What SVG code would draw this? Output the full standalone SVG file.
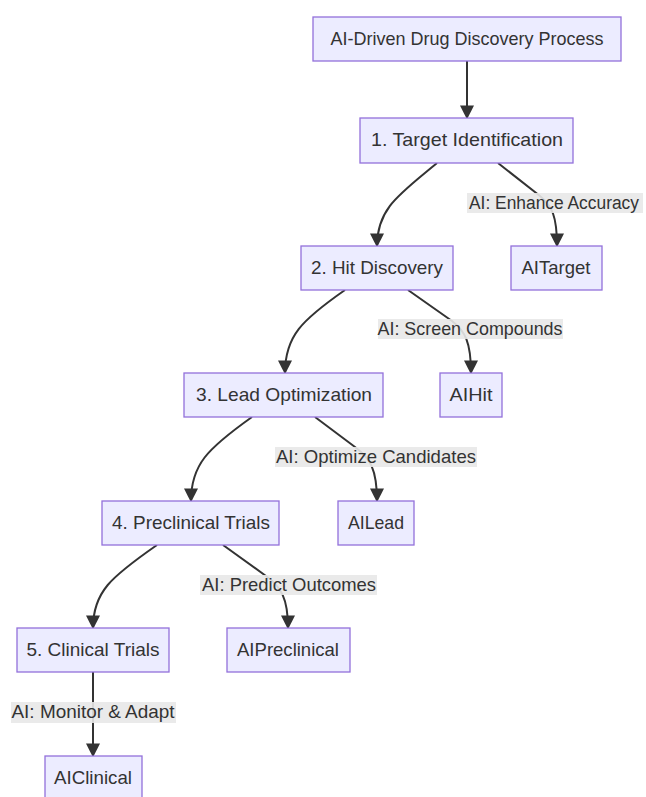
<svg xmlns="http://www.w3.org/2000/svg" width="646" height="797" viewBox="0 0 646 797">
  <style>
    .node rect { fill: #ececff; stroke: #9370db; stroke-width: 1.3; }
    .node text, .lbl text { font-family: "Liberation Sans", Arial, sans-serif; font-size: 19px; fill: #333333; text-anchor: middle; }
    .lbl rect { fill: #e8e8e8; opacity: 0.9; }
    .edge { fill: none; stroke: #333333; stroke-width: 2; marker-end: url(#arrow); }
  </style>
  <defs>
    <marker id="arrow" viewBox="0 0 10 10" refX="9" refY="5" markerUnits="userSpaceOnUse" markerWidth="14" markerHeight="14" orient="auto">
      <path d="M0,0 L10,5 L0,10 z" fill="#333333"/>
    </marker>
  </defs>
  <rect x="0" y="0" width="646" height="797" fill="#ffffff"/>

  <g id="edges">
    <path class="edge" d="M467,61 L467,118"/>
    <path class="edge" d="M437,163 C400,194 377,208 377,246"/>
    <path class="edge" d="M498,163 L540,196 C552,206 557,216 557,246"/>
    <path class="edge" d="M345,290 C302,320 285,336 285,373"/>
    <path class="edge" d="M408,290 L452,321 C465,331 471,342 471,373"/>
    <path class="edge" d="M252,417 C207,449 191,465 191,501"/>
    <path class="edge" d="M315,417 L355,447 C370,458 377,469 377,501"/>
    <path class="edge" d="M157,545 C111,577 93,592 93,628"/>
    <path class="edge" d="M223,545 L266,576 C281,587 288,598 288,628"/>
    <path class="edge" d="M93,672 L93,756"/>
  </g>

  <g id="edge-labels">
    <g class="lbl" id="lbl-enhance"><rect x="467" y="193" width="176" height="20"/><text x="554" y="209" style="font-size:18px" textLength="170" lengthAdjust="spacingAndGlyphs">AI: Enhance Accuracy</text></g>
    <g class="lbl" id="lbl-screen"><rect x="378" y="319" width="185" height="20"/><text x="470" y="335" textLength="185" lengthAdjust="spacingAndGlyphs">AI: Screen Compounds</text></g>
    <g class="lbl" id="lbl-optimize"><rect x="275" y="447" width="202" height="20"/><text x="376" y="463" textLength="200" lengthAdjust="spacingAndGlyphs">AI: Optimize Candidates</text></g>
    <g class="lbl" id="lbl-predict"><rect x="200" y="575" width="177" height="20"/><text x="289" y="591" textLength="174" lengthAdjust="spacingAndGlyphs">AI: Predict Outcomes</text></g>
    <g class="lbl" id="lbl-monitor"><rect x="11" y="702" width="165" height="21"/><text x="93" y="718" textLength="163" lengthAdjust="spacingAndGlyphs">AI: Monitor &amp; Adapt</text></g>
  </g>

  <g class="node" id="node-start"><rect x="313" y="17" width="308" height="44"/><text x="467" y="45" textLength="273" lengthAdjust="spacingAndGlyphs">AI-Driven Drug Discovery Process</text></g>
  <g class="node" id="node-target"><rect x="360" y="118" width="213" height="45"/><text x="467" y="146" textLength="192" lengthAdjust="spacingAndGlyphs">1. Target Identification</text></g>
  <g class="node" id="node-hit"><rect x="301" y="246" width="152" height="44"/><text x="377" y="274" textLength="132" lengthAdjust="spacingAndGlyphs">2. Hit Discovery</text></g>
  <g class="node" id="node-aitarget"><rect x="511" y="246" width="91" height="44"/><text x="556" y="274" textLength="69" lengthAdjust="spacingAndGlyphs">AITarget</text></g>
  <g class="node" id="node-lead"><rect x="184" y="373" width="199" height="44"/><text x="284" y="401" textLength="176" lengthAdjust="spacingAndGlyphs">3. Lead Optimization</text></g>
  <g class="node" id="node-aihit"><rect x="440" y="373" width="62" height="44"/><text x="471" y="401" textLength="43" lengthAdjust="spacingAndGlyphs">AIHit</text></g>
  <g class="node" id="node-preclinical"><rect x="102" y="501" width="177" height="44"/><text x="191" y="529" textLength="158" lengthAdjust="spacingAndGlyphs">4. Preclinical Trials</text></g>
  <g class="node" id="node-ailead"><rect x="338" y="501" width="76" height="44"/><text x="376" y="529" textLength="56" lengthAdjust="spacingAndGlyphs">AILead</text></g>
  <g class="node" id="node-clinical"><rect x="17" y="628" width="152" height="44"/><text x="93" y="656" textLength="133" lengthAdjust="spacingAndGlyphs">5. Clinical Trials</text></g>
  <g class="node" id="node-aipreclinical"><rect x="227" y="628" width="123" height="44"/><text x="288" y="656" textLength="102" lengthAdjust="spacingAndGlyphs">AIPreclinical</text></g>
  <g class="node" id="node-aiclinical"><rect x="45" y="756" width="97" height="44"/><text x="93" y="784" textLength="78" lengthAdjust="spacingAndGlyphs">AIClinical</text></g>
</svg>
